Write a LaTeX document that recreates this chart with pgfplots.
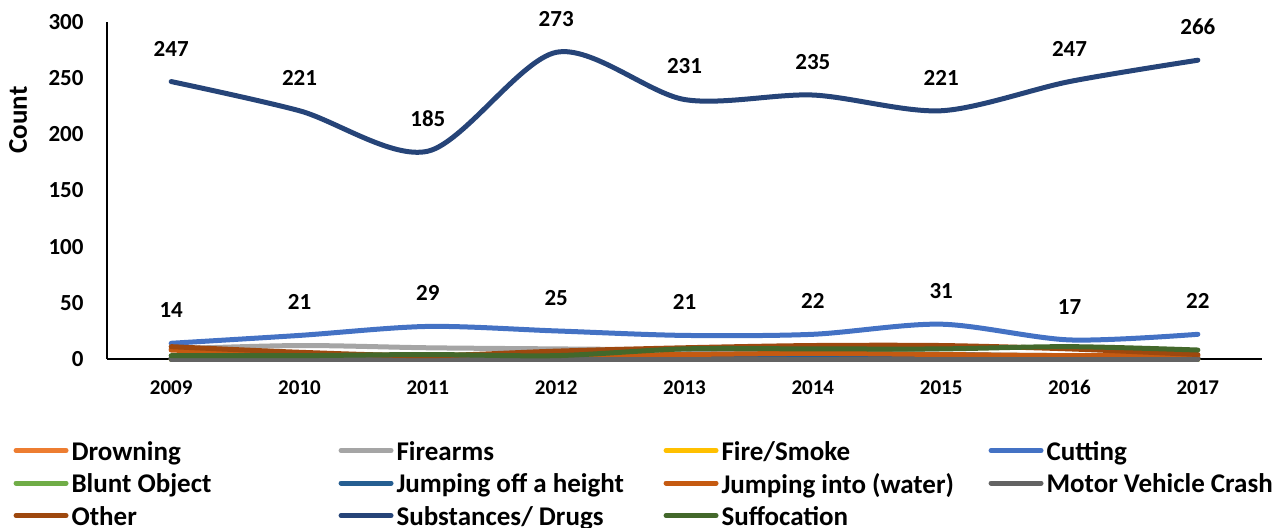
\documentclass[border=0pt]{standalone}
\usepackage{fontspec}
\setmainfont{Carlito}
\usepackage{pgfplots}
\pgfplotsset{compat=1.18}
\definecolor{cDrown}{HTML}{ED7D31}
\definecolor{cFire}{HTML}{A5A5A5}
\definecolor{cSmoke}{HTML}{FFC000}
\definecolor{cCut}{HTML}{4472C4}
\definecolor{cBlunt}{HTML}{70AD47}
\definecolor{cJoff}{HTML}{255E91}
\definecolor{cJinto}{HTML}{C55A11}
\definecolor{cMVC}{HTML}{636363}
\definecolor{cOther}{HTML}{9E480E}
\definecolor{cSub}{HTML}{264478}
\definecolor{cSuff}{HTML}{43682B}
\newcommand\legtxt[1]{\makebox[135pt][l]{\rule[-3pt]{0pt}{12.5pt}\hspace{1.5pt}#1}}
\begin{document}
\begin{tikzpicture}
\begin{axis}[
  scale only axis, width=577.5pt, height=168.5pt,
  xmin=-0.5, xmax=8.5, ymin=0, ymax=300,
  xtick={0,...,8}, xticklabels={2009,2010,2011,2012,2013,2014,2015,2016,2017},
  ytick={0,50,...,300},
  axis x line*=bottom, axis y line*=left,
  axis line style={-, line width=0.75pt, black},
  major tick length=0pt,
  /pgf/number format/assume math mode=true,
  yticklabel style={font=\fontsize{11.5}{13}\selectfont\bfseries, xshift=-8.2pt},
  xticklabel style={font=\fontsize{10.5}{12}\selectfont\bfseries, yshift=-7.2pt},
  ylabel={Count},
  ylabel style={font=\fontsize{13.5}{15}\selectfont\bfseries, at={(axis description cs:-0.077,0.709)}, anchor=center},
  clip=false,
  every axis plot/.append style={line width=2.5pt, smooth, tension=0.5, no marks, line cap=round, line join=round},
  every node near coord/.append style={font=\fontsize{11.5}{13}\selectfont\bfseries, text=black, anchor=center, yshift=16.5pt},
  legend columns=4,
  legend style={at={(axis description cs:-0.0809,-0.2433)}, anchor=north west, draw=none, fill=none,
    inner sep=0pt, outer sep=0pt, column sep=0pt, row sep=5pt,
    font=\fontsize{13.5}{14}\selectfont\bfseries, nodes={inner sep=0pt}},
  legend cell align=left,
  legend image code/.code={\draw[#1, line width=2.5pt, line cap=round] (0pt,0.75pt) -- (25pt,0.75pt);},
]
\addplot[cDrown] coordinates {(0,1)(1,0)(2,0)(3,1)(4,0)(5,1)(6,1)(7,0)(8,1)};
\addlegendentry{\legtxt{Drowning}}
\addplot[cFire] coordinates {(0,9)(1,12)(2,10)(3,9)(4,8)(5,6)(6,4)(7,3)(8,2)};
\addlegendentry{\legtxt{Firearms}}
\addplot[cSmoke] coordinates {(0,0)(1,0)(2,0)(3,0)(4,0)(5,0)(6,0)(7,0)(8,0)};
\addlegendentry{\legtxt{Fire/Smoke}}
\addplot[cCut, nodes near coords] coordinates {(0,14)(1,21)(2,29)(3,25)(4,21)(5,22)(6,31)(7,17)(8,22)};
\addlegendentry{\legtxt{Cutting}}
\addplot[cBlunt] coordinates {(0,0)(1,0)(2,0)(3,0)(4,0)(5,0)(6,0)(7,0)(8,0)};
\addlegendentry{\legtxt{Blunt Object}}
\addplot[cJoff] coordinates {(0,1)(1,1)(2,1)(3,1)(4,4)(5,4)(6,4)(7,2)(8,1)};
\addlegendentry{\legtxt{Jumping off a height}}
\addplot[cJinto] coordinates {(0,8)(1,4)(2,3)(3,3)(4,4)(5,5)(6,4)(7,3)(8,3)};
\addlegendentry{\legtxt{Jumping into (water)}}
\addplot[cMVC] coordinates {(0,0)(1,0)(2,0)(3,0)(4,0)(5,0)(6,0)(7,0)(8,0)};
\addlegendentry{\legtxt{Motor Vehicle Crash}}
\addplot[cOther] coordinates {(0,11)(1,6)(2,3)(3,7)(4,10)(5,12)(6,12)(7,9)(8,4)};
\addlegendentry{\legtxt{Other}}
\addplot[cSub, nodes near coords] coordinates {(0,247)(1,221)(2,185)(3,273)(4,231)(5,235)(6,221)(7,247)(8,266)};
\addlegendentry{\legtxt{Substances/ Drugs}}
\addplot[cSuff] coordinates {(0,3)(1,3)(2,4)(3,3)(4,9)(5,9)(6,9)(7,11)(8,8)};
\addlegendentry{\legtxt{Suffocation}}
\end{axis}
\pgfresetboundingbox
\path[use as bounding box] (-53.5pt,-84pt) rectangle (583pt,179.5pt);
\end{tikzpicture}
\end{document}
